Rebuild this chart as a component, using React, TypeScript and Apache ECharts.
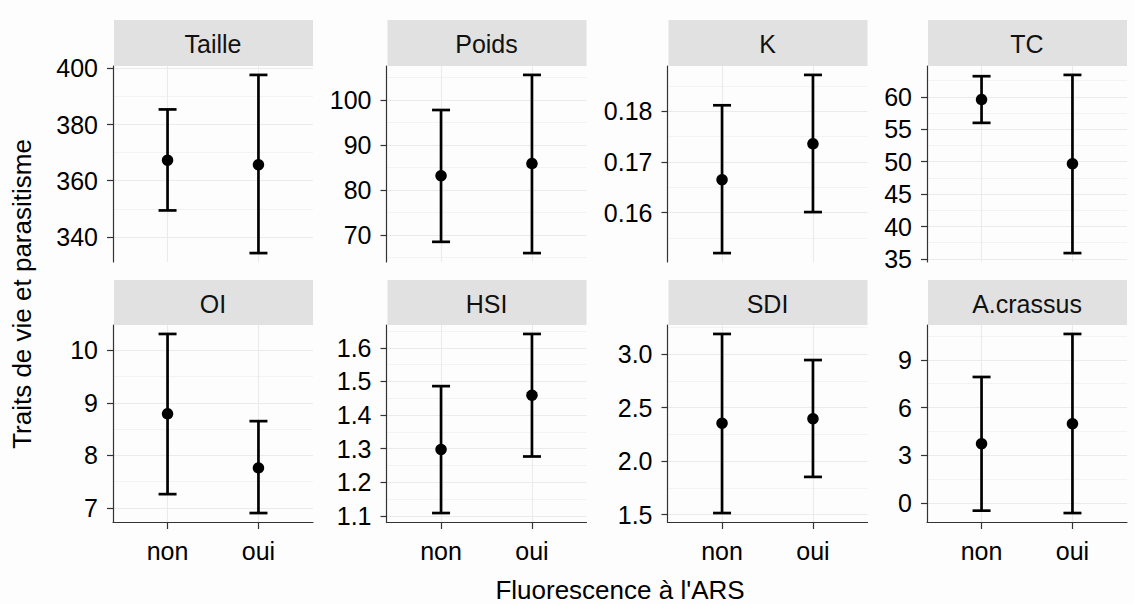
import React, { useEffect, useRef } from "react";
import * as echarts from "echarts";

// ---- Data ----
const panelNames = ["Taille", "Poids", "K", "TC", "OI", "HSI", "SDI", "A.crassus"];
const groups = ["non", "oui"];

const meanNon = [367.3, 83.2, 0.1665, 59.6, 8.79, 1.298, 2.355, 3.73];
const lowNon = [349.4, 68.5, 0.152, 56.0, 7.26, 1.109, 1.515, -0.47];
const highNon = [385.4, 97.8, 0.1812, 63.2, 10.31, 1.486, 3.19, 7.92];

const meanOui = [365.7, 85.9, 0.1736, 49.7, 7.76, 1.459, 2.397, 4.99];
const lowOui = [334.2, 66.0, 0.1601, 35.9, 6.9, 1.277, 1.853, -0.62];
const highOui = [397.7, 105.6, 0.1872, 63.4, 8.65, 1.641, 2.946, 10.62];

const ticksTaille = ["340", "360", "380", "400"];
const ticksPoids = ["70", "80", "90", "100"];
const ticksK = ["0.16", "0.17", "0.18"];
const ticksTC = ["35", "40", "45", "50", "55", "60"];
const ticksOI = ["7", "8", "9", "10"];
const ticksHSI = ["1.1", "1.2", "1.3", "1.4", "1.5", "1.6"];
const ticksSDI = ["1.5", "2.0", "2.5", "3.0"];
const ticksAcrassus = ["0", "3", "6", "9"];
const yTicks = [ticksTaille, ticksPoids, ticksK, ticksTC, ticksOI, ticksHSI, ticksSDI, ticksAcrassus];

const xTitle = "Fluorescence à l'ARS";
const yTitle = "Traits de vie et parasitisme";

// ---- Layout ----
const FONT = "'Liberation Sans', Arial, sans-serif";
const colLeft = [113, 386.5, 667.5, 927];
const panelW = 200;
const rowTop = [66, 325];
const rowH = [196, 197];
const stripTop = [20, 280];
const stripH = [46, 45];

function buildOption() {
  const grid: any[] = [];
  const xAxis: any[] = [];
  const yAxis: any[] = [];
  const series: any[] = [];
  const graphic: any[] = [];

  panelNames.forEach((name, i) => {
    const r = Math.floor(i / 4);
    const c = i % 4;
    const bottom = r === 1;
    grid.push({ left: colLeft[c], top: rowTop[r], width: panelW, height: rowH[r] });

    const lo = Math.min(lowNon[i], lowOui[i]);
    const hi = Math.max(highNon[i], highOui[i]);
    const pad = (hi - lo) * 0.05;
    const yMin = lo - pad;
    const yMax = hi + pad;

    const labels = yTicks[i];
    const vals = labels.map(Number);
    const step = vals[1] - vals[0];
    const minors: number[] = [];
    for (let k = -1; k < vals.length; k++) {
      const m = vals[0] + step * (k + 0.5);
      if (m > yMin && m < yMax) minors.push(m);
    }

    xAxis.push({
      gridIndex: i,
      type: "value",
      min: 0.4,
      max: 2.6,
      axisLine: { show: bottom, onZero: false, lineStyle: { color: "#333333", width: 1.2 } },
      axisTick: { show: bottom, customValues: [1, 2], length: 7, lineStyle: { color: "#333333", width: 1.2 } },
      axisLabel: {
        show: bottom,
        customValues: [1, 2],
        formatter: (v: number) => groups[Math.round(v) - 1] ?? "",
        fontSize: 25,
        fontFamily: FONT,
        color: "#000000",
        margin: 16,
      },
      splitLine: { show: true, lineStyle: { color: "#EBEBEB", width: 1.1 } },
    });

    yAxis.push({
      gridIndex: i,
      type: "value",
      min: yMin,
      max: yMax,
      axisLine: { show: true, onZero: false, lineStyle: { color: "#333333", width: 1.2 } },
      axisTick: { show: true, customValues: vals, length: 6, lineStyle: { color: "#333333", width: 1.2 } },
      axisLabel: {
        show: true,
        customValues: vals,
        formatter: (v: number) => {
          const idx = vals.findIndex((t) => Math.abs(t - v) < step * 1e-3);
          return idx >= 0 ? labels[idx] : "";
        },
        fontSize: 25,
        fontFamily: FONT,
        color: "#000000",
        margin: 15,
      },
      splitLine: { show: true, lineStyle: { color: "#EBEBEB", width: 1.1 } },
    });
    yAxis.push({
      gridIndex: i,
      type: "value",
      position: "right",
      min: yMin,
      max: yMax,
      axisLine: { show: false },
      axisTick: { show: false, customValues: minors },
      axisLabel: { show: false, customValues: minors },
      splitLine: { show: true, lineStyle: { color: "#F3F3F3", width: 1 } },
    });

    series.push({
      type: "custom",
      xAxisIndex: i,
      yAxisIndex: 2 * i,
      encode: { x: 0, y: [1, 2] },
      data: [
        [1, lowNon[i], highNon[i]],
        [2, lowOui[i], highOui[i]],
      ],
      renderItem: (params: any, api: any) => {
        const x = api.value(0);
        const pLo = api.coord([x, api.value(1)]);
        const pHi = api.coord([x, api.value(2)]);
        const w = 9;
        const style = { stroke: "#000000", lineWidth: 2.7 };
        return {
          type: "group",
          children: [
            { type: "line", shape: { x1: pLo[0], y1: pLo[1], x2: pHi[0], y2: pHi[1] }, style },
            { type: "line", shape: { x1: pLo[0] - w, y1: pLo[1], x2: pLo[0] + w, y2: pLo[1] }, style },
            { type: "line", shape: { x1: pHi[0] - w, y1: pHi[1], x2: pHi[0] + w, y2: pHi[1] }, style },
          ],
        };
      },
      z: 3,
    });
    series.push({
      type: "scatter",
      xAxisIndex: i,
      yAxisIndex: 2 * i,
      data: [
        [1, meanNon[i]],
        [2, meanOui[i]],
      ],
      symbol: "circle",
      symbolSize: 11.5,
      itemStyle: { color: "#000000", opacity: 1 },
      z: 4,
    });

    graphic.push({
      type: "rect",
      shape: { x: colLeft[c] + 1, y: stripTop[r], width: panelW - 1, height: stripH[r] },
      style: { fill: "#E1E1E1" },
      silent: true,
    });
    graphic.push({
      type: "text",
      x: colLeft[c] + panelW / 2,
      y: stripTop[r] + stripH[r] / 2 + 1,
      style: {
        text: name,
        fontSize: 25,
        fontFamily: FONT,
        fill: "#111111",
        align: "center",
        verticalAlign: "middle",
      },
      silent: true,
    });
  });

  graphic.push({
    type: "text",
    x: (colLeft[0] + colLeft[3] + panelW) / 2,
    y: 590,
    style: { text: xTitle, fontSize: 26, fontFamily: FONT, fill: "#000000", align: "center", verticalAlign: "middle" },
    silent: true,
  });
  graphic.push({
    type: "text",
    x: 22,
    y: (rowTop[0] + rowTop[1] + rowH[1]) / 2,
    rotation: Math.PI / 2,
    style: { text: yTitle, fontSize: 26, fontFamily: FONT, fill: "#000000", align: "center", verticalAlign: "middle" },
    silent: true,
  });

  return {
    animation: false,
    backgroundColor: "#FDFDFD",
    textStyle: { fontFamily: FONT },
    grid,
    xAxis,
    yAxis,
    series,
    graphic,
  };
}

export default function App() {
  const ref = useRef<HTMLDivElement>(null);
  useEffect(() => {
    document.body.style.margin = "0";
    if (!ref.current) return;
    const chart = echarts.init(ref.current, undefined, { renderer: "svg" });
    chart.setOption(buildOption() as any);
    return () => chart.dispose();
  }, []);
  return <div ref={ref} style={{ width: 1134, height: 604 }} />;
}
